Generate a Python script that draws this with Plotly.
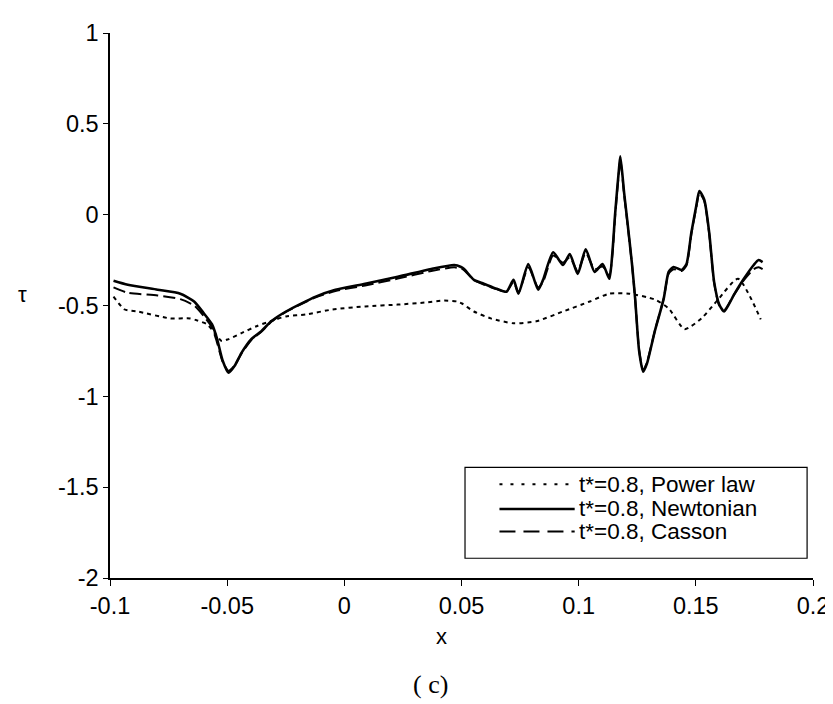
import plotly.graph_objects as go

# ---- data ----
x_newt = [-0.0985, -0.0924, -0.0797, -0.0700, -0.0641, -0.0599, -0.0565, -0.0544, -0.0519, -0.0494,
          -0.0468, -0.0439, -0.0397, -0.0354, -0.0312, -0.0249, -0.0122, -0.0038, 0.0089, 0.0228,
          0.0371, 0.0469, 0.0498, 0.0511, 0.0553, 0.0595, 0.0650, 0.0692, 0.0722, 0.0743,
          0.0785, 0.0827, 0.0848, 0.0891, 0.0933, 0.0962, 0.0996, 0.1030, 0.1068, 0.1102,
          0.1131, 0.1144, 0.1156, 0.1173, 0.1178, 0.1194, 0.1207, 0.1228, 0.1241, 0.1258,
          0.1275, 0.1291, 0.1325, 0.1363, 0.1384, 0.1405, 0.1439, 0.1460, 0.1481, 0.1502,
          0.1515, 0.1536, 0.1557, 0.1578, 0.1600, 0.1621, 0.1663, 0.1705, 0.1747, 0.1768, 0.1785]
y_newt = [-0.364, -0.386, -0.413, -0.435, -0.478, -0.544, -0.603, -0.679, -0.804, -0.870,
          -0.832, -0.761, -0.685, -0.641, -0.587, -0.533, -0.451, -0.413, -0.380, -0.342,
          -0.299, -0.277, -0.288, -0.299, -0.359, -0.380, -0.408, -0.424, -0.359, -0.435,
          -0.272, -0.413, -0.359, -0.207, -0.277, -0.217, -0.326, -0.190, -0.315, -0.272,
          -0.353, -0.207, 0.011, 0.266, 0.321, 0.120, -0.027, -0.277, -0.462, -0.750,
          -0.864, -0.821, -0.641, -0.462, -0.315, -0.288, -0.304, -0.272, -0.098, 0.049,
          0.130, 0.082, -0.098, -0.370, -0.495, -0.533, -0.440, -0.353, -0.277, -0.250, -0.261]

x_cass = x_newt
y_cass = [-0.400, -0.430, -0.445, -0.465, -0.500, -0.560, -0.620, -0.700, -0.810, -0.860,
          -0.830, -0.765, -0.690, -0.645, -0.590, -0.535, -0.455, -0.420, -0.390, -0.352,
          -0.310, -0.290, -0.297, -0.305, -0.360, -0.385, -0.410, -0.425, -0.370, -0.430,
          -0.290, -0.400, -0.370, -0.225, -0.265, -0.235, -0.310, -0.210, -0.300, -0.285,
          -0.330, -0.220, 0.000, 0.250, 0.300, 0.110, -0.035, -0.280, -0.465, -0.745,
          -0.855, -0.815, -0.640, -0.460, -0.325, -0.300, -0.310, -0.280, -0.105, 0.040,
          0.120, 0.075, -0.105, -0.375, -0.500, -0.525, -0.440, -0.360, -0.300, -0.290, -0.300]

x_pow = [-0.0985, -0.0937, -0.0882, -0.0743, -0.0658, -0.0629, -0.0586, -0.0553, -0.0523, -0.0494,
         -0.0439, -0.0375, -0.0291, -0.0249, -0.0164, -0.0050, 0.0089, 0.0228, 0.0342, 0.0426,
         0.0481, 0.0502, 0.0553, 0.0625, 0.0722, 0.0819, 0.0933, 0.1047, 0.1131, 0.1216,
         0.1325, 0.1384, 0.1452, 0.1524, 0.1595, 0.1680, 0.1777]
y_pow = [-0.451, -0.522, -0.533, -0.571, -0.571, -0.582, -0.603, -0.652, -0.696, -0.685,
         -0.652, -0.614, -0.576, -0.560, -0.549, -0.522, -0.505, -0.495, -0.484, -0.473,
         -0.478, -0.489, -0.533, -0.571, -0.598, -0.587, -0.533, -0.478, -0.435, -0.435,
         -0.467, -0.516, -0.630, -0.571, -0.467, -0.353, -0.576]

x_ticks = [-0.1, -0.05, 0, 0.05, 0.1, 0.15, 0.2]
x_tick_labels = ["-0.1", "-0.05", "0", "0.05", "0.1", "0.15", "0.2"]
y_ticks = [-2, -1.5, -1, -0.5, 0, 0.5, 1]
y_tick_labels = ["-2", "-1.5", "-1", "-0.5", "0", "0.5", "1"]

legend_labels = ["t*=0.8, Power law", "t*=0.8, Newtonian", "t*=0.8, Casson"]

SANS = "Liberation Sans, Arial, sans-serif"
SERIF = "Liberation Serif, Times New Roman, serif"

fig = go.Figure()
fig.add_trace(go.Scatter(x=x_pow, y=y_pow, mode="lines", name=legend_labels[0],
                         line=dict(color="black", width=2, dash="4px,4px", shape="spline", smoothing=0.6)))
fig.add_trace(go.Scatter(x=x_newt, y=y_newt, mode="lines", name=legend_labels[1],
                         line=dict(color="black", width=2.6, shape="spline", smoothing=0.6)))
fig.add_trace(go.Scatter(x=x_cass, y=y_cass, mode="lines", name=legend_labels[2],
                         line=dict(color="black", width=2, dash="12px,5px", shape="spline", smoothing=0.6)))

# ---- manual legend (box + samples + text) ----
box = dict(x0=0.505, x1=0.9916, y0=0.0362, y1=0.2029)
fig.add_shape(type="rect", xref="paper", yref="paper", **box,
              line=dict(color="black", width=1.2), fillcolor="white", layer="above")
rows_y = [0.1721, 0.1268, 0.0851]
dashes = ["3px,8px", "solid", "16px,8px"]
widths = [2, 2.5, 2]
for yy, d, w, lab in zip(rows_y, dashes, widths, legend_labels):
    fig.add_shape(type="line", xref="paper", yref="paper", x0=0.554, x1=0.661, y0=yy, y1=yy,
                  line=dict(color="black", width=w, dash=d), layer="above")
    fig.add_annotation(xref="paper", yref="paper", x=0.665, y=yy, text=lab, showarrow=False,
                       xanchor="left", yanchor="middle", font=dict(family=SANS, size=22.5, color="black"))

# axis titles and caption
fig.add_annotation(xref="paper", yref="paper", x=0.472, y=-0.108, text="x", showarrow=False,
                   xanchor="center", yanchor="middle", font=dict(family=SANS, size=22, color="black"))
fig.add_annotation(xref="paper", yref="paper", x=-0.124, y=0.521, text="τ", showarrow=False,
                   xanchor="center", yanchor="middle", font=dict(family=SANS, size=22, color="black"))
fig.add_annotation(xref="paper", yref="paper", x=0.456, y=-0.196, text="( c)", showarrow=False,
                   xanchor="center", yanchor="middle", font=dict(family=SERIF, size=26, color="black"))

fig.update_layout(
    width=833, height=704,
    margin=dict(l=102, r=20, t=18, b=134),
    paper_bgcolor="white", plot_bgcolor="white",
    showlegend=False,
    font=dict(family=SANS, size=22, color="black"),
    xaxis=dict(range=[-0.1, 0.2], tickvals=x_ticks, ticktext=x_tick_labels,
               showline=True, linecolor="black", linewidth=1.5, showgrid=False, zeroline=False,
               ticks="outside", ticklen=6, tickcolor="black", tickwidth=1.2,
               tickfont=dict(family=SANS, size=23.5, color="black")),
    yaxis=dict(range=[-2, 1], tickvals=y_ticks, ticktext=y_tick_labels,
               showline=True, linecolor="black", linewidth=1.5, showgrid=False, zeroline=False,
               ticks="outside", ticklen=5, tickcolor="black", tickwidth=1.2,
               tickfont=dict(family=SANS, size=23.5, color="black")),
)

fig.write_html("out.html")
